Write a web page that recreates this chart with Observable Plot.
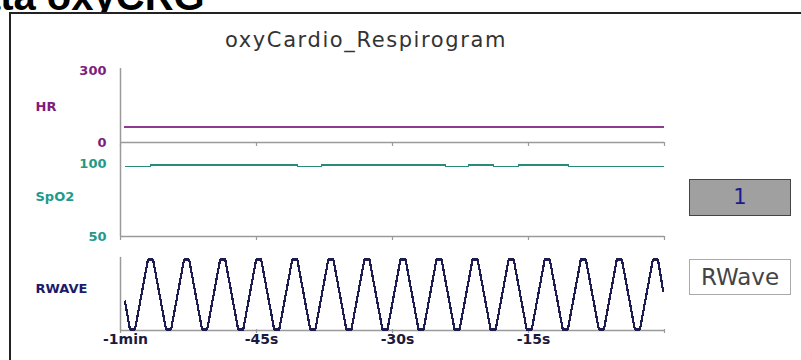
<!DOCTYPE html>
<html><head><meta charset="utf-8">
<script src="https://cdn.jsdelivr.net/npm/d3@7"></script>
<script src="https://cdn.jsdelivr.net/npm/@observablehq/plot@0.6"></script>
<style>
html,body{margin:0;padding:0;background:#fff;}
#root{position:relative;width:801px;height:360px;overflow:hidden;background:#fff;font-family:"DejaVu Sans",sans-serif;}
.abs{position:absolute;}
#headline{left:-51px;top:-24px;font:bold 40px "Liberation Sans",Arial,sans-serif;line-height:40px;color:#000;white-space:nowrap;}
#frame{left:9px;top:12px;width:900px;height:400px;border:2px solid #222;background:#fff;box-sizing:border-box;}
#title{left:0;width:732px;top:28px;text-align:center;font-size:21px;line-height:24px;letter-spacing:1.6px;color:#333;white-space:nowrap;}
#valbox{left:689px;top:179px;width:102px;height:37px;box-sizing:border-box;border:1.5px solid #444;background:#a0a0a0;color:#1b1b8f;font-size:21px;line-height:34px;text-align:center;}
#namebox{left:689px;top:259px;width:102px;height:36px;box-sizing:border-box;border:1px solid #aaa;background:#fff;color:#444;font-size:23px;line-height:34px;text-align:center;}
.panel{position:absolute;left:0;}
</style>
</head><body>
<div id="root">
  <div id="headline" class="abs">Data oxyCRG</div>
  <div id="frame" class="abs"></div>
  <div id="title" class="abs">oxyCardio_Respirogram</div>
  <div id="valbox" class="abs">1</div>
  <div id="namebox" class="abs">RWave</div>
</div>
<script>
// ---- data ----
const xDomain = [-60, 0];
const xTicks = [-60, -45, -30, -15, 0];
const xTickLabels = ["-1min", "-45s", "-30s", "-15s"];

const hrName = "HR";
const hrTicks = [0, 300];
const hrT = [-59.5, -0.1];
const hrV = [64, 64];

const spo2Name = "SpO2";
const spo2Ticks = [50, 100];
const spo2T = [-59.45, -56.69, -40.48, -37.83, -24.15, -21.62, -18.86, -16.10, -10.59, -0.11];
const spo2V = [98, 99, 98, 99, 98, 99, 98, 99, 98, 98];

const rwaveName = "RWAVE";
const rwaveT = [-59.5, -58.96, -58.40,
  -56.97, -56.41, -54.98, -54.42,
  -52.99, -52.43, -51.00, -50.44,
  -49.01, -48.45, -47.02, -46.46,
  -45.04, -44.48, -43.05, -42.49,
  -41.06, -40.50, -39.07, -38.51,
  -37.08, -36.52, -35.09, -34.53,
  -33.10, -32.54, -31.11, -30.55,
  -29.12, -28.56, -27.13, -26.57,
  -25.15, -24.59, -23.16, -22.60,
  -21.17, -20.61, -19.18, -18.62,
  -17.19, -16.63, -15.20, -14.64,
  -13.21, -12.65, -11.22, -10.66,
  -9.23, -8.67, -7.24, -6.68,
  -5.26, -4.70, -3.27, -2.71,
  -1.28, -0.72, -0.15];
const rwaveV = [40, 0, 0,
  100, 100, 0, 0,
  100, 100, 0, 0,
  100, 100, 0, 0,
  100, 100, 0, 0,
  100, 100, 0, 0,
  100, 100, 0, 0,
  100, 100, 0, 0,
  100, 100, 0, 0,
  100, 100, 0, 0,
  100, 100, 0, 0,
  100, 100, 0, 0,
  100, 100, 0, 0,
  100, 100, 0, 0,
  100, 100, 0, 0,
  100, 100, 55];

// ---- helpers ----
const toRows = (T, V) => T.map((t, i) => ({t, v: V[i]}));
const W = 801, ML = 120, MR = 137;
const gray = "#9a9a9a";
const root = document.getElementById("root");

function panel({top, height, mt, mb, domain, ticks, name, color, lineColor, rows, curve, sw, base, nameDy, yRuleTop, xLabels}) {
  const marks = [
    Plot.ruleX([xDomain[0]], {y1: base, y2: yRuleTop, stroke: gray, strokeWidth: 1.5}),
    Plot.ruleY([base], {stroke: gray, strokeWidth: 1.5}),
    Plot.axisX({ticks: xTicks, tickSize: 4, tickFormat: () => "", label: null, stroke: gray, strokeWidth: 1.2}),
    Plot.line(rows, {x: "t", y: "v", stroke: lineColor, strokeWidth: sw, curve, shapeRendering: "crispEdges"}),
    Plot.text(ticks, {x: xDomain[0], y: d => d, text: d => String(d), textAnchor: "end", dx: -14,
      fill: color, fontWeight: "bold", fontSize: 13, fontFamily: "DejaVu Sans"}),
    Plot.text([name], {frameAnchor: "left", text: d => d, textAnchor: "start", dx: -85, dy: nameDy,
      fill: color, fontWeight: "bold", fontSize: 13, fontFamily: "DejaVu Sans"})
  ];
  if (xLabels) {
    marks.push(Plot.text(xLabels, {x: (d, i) => xTicks[i], text: d => d, frameAnchor: "bottom", dy: 14, dx: 5,
      fill: "#1a1a40", fontWeight: "bold", fontSize: 14, fontFamily: "DejaVu Sans"}));
  }
  const svg = Plot.plot({
    width: W, height, marginLeft: ML, marginRight: MR, marginTop: mt, marginBottom: mb,
    style: {background: "transparent", overflow: "visible"},
    x: {domain: xDomain},
    y: {domain: [domain[0], domain[1]], axis: null},
    marks
  });
  svg.classList.add("panel");
  svg.style.top = top + "px";
  root.appendChild(svg);
}

panel({top: 50, height: 100, mt: 20, mb: 8, domain: [0, 300], ticks: hrTicks, name: hrName,
  color: "#7d1d7d", lineColor: "#8e3a8e", rows: toRows(hrT, hrV), curve: "linear", sw: 2, base: 0, yRuleTop: 308, nameDy: 0});
panel({top: 140, height: 105, mt: 23, mb: 9, domain: [50, 100], ticks: spo2Ticks, name: spo2Name,
  color: "#23998a", lineColor: "#2a8a78", rows: toRows(spo2T, spo2V), curve: "step-after", sw: 1.6, base: 50, yRuleTop: 114, nameDy: -3});
panel({top: 245, height: 115, mt: 14, mb: 31, domain: [0, 100], ticks: [], name: rwaveName,
  color: "#1b1b6b", lineColor: "#1c1c50", rows: toRows(rwaveT, rwaveV), curve: "linear", sw: 2.2, base: -1.5, yRuleTop: 103, nameDy: -6, xLabels: xTickLabels});
</script>
</body></html>
